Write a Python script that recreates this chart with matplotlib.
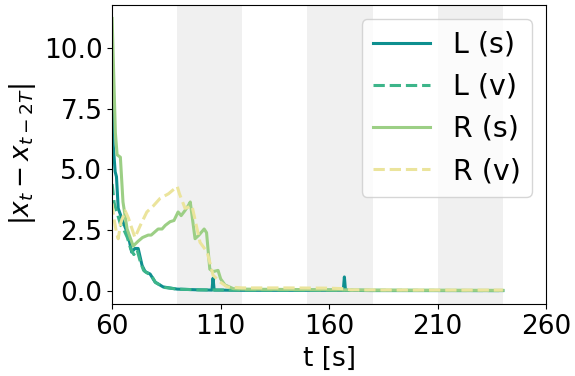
import matplotlib
matplotlib.use('Agg')
import matplotlib.pyplot as plt

# L (s)
t_ls = [60, 60.5, 61.4, 62, 62.8, 65, 67.4, 69, 70.5, 72, 73.8, 75.2, 77.5, 79.8, 83.5, 90, 100,
        106, 106.5, 107, 120, 140, 166.5, 167, 167.5, 180, 210, 240]
v_ls = [7.8, 6.0, 4.9, 4.7, 3.4, 2.85, 2.3, 1.6, 1.75, 1.75, 1.05, 0.8, 0.7, 0.37, 0.17, 0.08, 0.05,
        0.04, 0.53, 0.04, 0.03, 0.03, 0.03, 0.58, 0.03, 0.02, 0.02, 0.02]

# L (v)
t_lv = [60, 61, 62, 63, 64, 65.5, 67, 68.5, 70, 71.5, 73, 74.5, 76, 78, 80, 84, 90, 100, 120, 180, 240]
v_lv = [4.4, 3.6, 3.3, 3.0, 2.7, 2.5, 2.2, 1.75, 1.5, 1.7, 1.2, 0.85, 0.75, 0.65, 0.35, 0.15, 0.08,
        0.05, 0.04, 0.03, 0.02]

# R (s)
t_rs = [60, 61.5, 62.3, 63.8, 65, 66.9, 69.7, 72, 74, 76.6, 78, 81.2, 83, 84.5, 86.7, 88.5, 90.4,
        91.8, 93.5, 95, 96, 98.2, 100, 102.4, 103.5, 105, 106.5, 108.8, 110, 112, 115.8, 120, 150,
        180, 240]
v_rs = [11.2, 6.5, 5.6, 5.5, 3.66, 2.55, 1.85, 2.05, 2.2, 2.3, 2.3, 2.55, 2.55, 2.7, 2.85, 2.9, 3.25,
        3.1, 3.3, 3.5, 3.66, 2.15, 2.3, 2.55, 2.4, 0.9, 0.8, 0.85, 0.5, 0.25, 0.1, 0.08, 0.06,
        0.04, 0.03]

# R (v)
t_rv = [60, 60.8, 62.0, 62.8, 64, 66, 67.5, 69, 70.5, 73, 76, 79, 82, 86, 90, 91, 93.6, 96.8,
        100.5, 103.8, 106.5, 109.8, 113, 120, 140, 160, 166, 170, 200, 240]
v_rv = [3.6, 3.0, 2.4, 2.15, 2.8, 3.3, 3.0, 2.6, 2.2, 2.7, 3.25, 3.5, 3.8, 4.0, 4.3, 4.0, 3.4, 3.5,
        2.0, 1.6, 0.65, 0.37, 0.17, 0.13, 0.13, 0.12, 0.1, 0.05, 0.04, 0.04]

shaded = [(90, 120), (150, 180), (210, 240)]

fig, ax = plt.subplots(figsize=(5.75, 3.76), dpi=100)
fig.subplots_adjust(left=0.195, right=0.95, top=0.987, bottom=0.191)

for a, b in shaded:
    ax.axvspan(a, b, color='#f0f0f0', lw=0, zorder=0)

lw = 2.2
ax.plot(t_ls, v_ls, color='#0e8f8f', lw=lw, label='L (s)')
ax.plot(t_lv, v_lv, color='#3db58a', lw=lw, ls='--', label='L (v)')
ax.plot(t_rs, v_rs, color='#9ccf85', lw=lw, label='R (s)')
ax.plot(t_rv, v_rv, color='#ebe49c', lw=lw, ls='--', label='R (v)')

ax.set_xlim(60, 260)
ax.set_xticks([60, 110, 160, 210, 260])
ax.tick_params(labelsize=19)
ax.set_xlabel('t [s]', fontsize=19)
ax.set_ylabel(r'$|x_t - x_{t-2T}|$', fontsize=19)
ax.legend(loc='upper right', fontsize=20.5)

fig.savefig('out.png', dpi=100)
